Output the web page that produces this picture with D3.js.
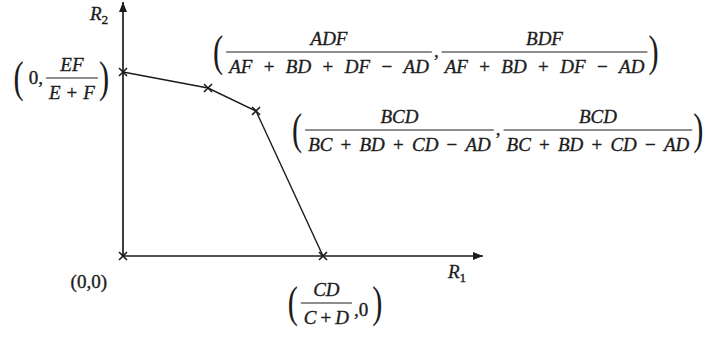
<!DOCTYPE html>
<html>
<head>
<meta charset="utf-8">
<script src="https://cdn.jsdelivr.net/npm/d3@7"></script>
<style>
  html, body { margin: 0; padding: 0; background: #fff; }
  svg { display: block; }
  svg text { stroke: #1c1c1c; stroke-width: 0.35px; }
  svg text.paren { stroke: none; }
</style>
</head>
<body>
<svg id="chart" width="708" height="337"></svg>
<script>
// Corner points of the achievable rate region (R1, R2), arbitrary rate units
const frontierR1 = [0, 2.125, 3.325, 5];
const frontierR2 = [4.6, 4.2, 3.625, 0];
const originPoint = [0, 0];
const axisExtent = { r1: 9, r2: 6.35 };

// Axis titles: main letter + subscript
const axisTitleR1 = ["R", "1"];
const axisTitleR2 = ["R", "2"];

// Coordinate labels for each corner point (tokens: letters italic, operators upright)
const labelOrigin   = ["(0,0)"];
const labelTop      = ["(", "0,", { num: ["EF"], den: ["E", "+", "F"] }, ")"];
const labelSecond   = ["(", { num: ["ADF"], den: ["AF", "+", "BD", "+", "DF", "−", "AD"] }, ",",
                             { num: ["BDF"], den: ["AF", "+", "BD", "+", "DF", "−", "AD"] }, ")"];
const labelThird    = ["(", { num: ["BCD"], den: ["BC", "+", "BD", "+", "CD", "−", "AD"] }, ",",
                             { num: ["BCD"], den: ["BC", "+", "BD", "+", "CD", "−", "AD"] }, ")"];
const labelAxisR1   = ["(", { num: ["CD"], den: ["C", "+", "D"] }, ",0", ")"];

const svg = d3.select("#chart");
const ink = "#1c1c1c";
const FONT = "'Liberation Serif', 'Times New Roman', serif";
const FS = 19;

const x = d3.scaleLinear().domain([0, axisExtent.r1]).range([123, 483]);
const y = d3.scaleLinear().domain([0, axisExtent.r2]).range([256, 2]);

// Arrowhead marker for the axes
svg.append("defs").append("marker")
  .attr("id", "arrow").attr("viewBox", "0 0 10 10")
  .attr("refX", 10).attr("refY", 5)
  .attr("markerWidth", 10).attr("markerHeight", 10)
  .attr("markerUnits", "userSpaceOnUse")
  .attr("orient", "auto")
  .append("path").attr("d", "M0,1 L10,5 L0,9 Z").attr("fill", ink);

// Axes
svg.append("line")
  .attr("x1", x(0)).attr("y1", y(0)).attr("x2", x(axisExtent.r1)).attr("y2", y(0))
  .attr("stroke", ink).attr("stroke-width", 1.7).attr("marker-end", "url(#arrow)");
svg.append("line")
  .attr("x1", x(0)).attr("y1", y(0)).attr("x2", x(0)).attr("y2", y(axisExtent.r2))
  .attr("stroke", ink).attr("stroke-width", 1.7).attr("marker-end", "url(#arrow)");

// Frontier of the region
const frontier = frontierR1.map((r1, i) => [r1, frontierR2[i]]);
svg.append("path")
  .datum(frontier)
  .attr("d", d3.line().x(d => x(d[0])).y(d => y(d[1])))
  .attr("fill", "none").attr("stroke", ink).attr("stroke-width", 1.4);

// Cross markers on every corner point
const corners = [originPoint, ...frontier];
svg.selectAll("path.cross").data(corners).join("path")
  .attr("class", "cross")
  .attr("transform", d => `translate(${x(d[0])},${y(d[1])})`)
  .attr("d", "M-4,-4L4,4M-4,4L4,-4")
  .attr("stroke", ink).attr("stroke-width", 1.6).attr("fill", "none");

// Axis titles with subscripts
function axisTitle(parts, px, py) {
  const t = svg.append("text").attr("x", px).attr("y", py)
    .attr("font-family", FONT).attr("font-size", FS).attr("fill", ink);
  t.append("tspan").attr("font-style", "italic").text(parts[0]);
  t.append("tspan").attr("font-size", FS * 0.7).attr("dy", 4).text(parts[1]);
}
axisTitle(axisTitleR1, x(axisExtent.r1) - 35, y(0) + 22);
axisTitle(axisTitleR2, x(0) - 33, 20);

// Math label layout: parentheses, inline text and stacked fractions
const isOp = s => s === "+" || s === "−";
function drawTokens(g, tokens, gap, baseline) {
  let cx = 0;
  tokens.forEach((tk, i) => {
    if (i > 0) cx += gap;
    const t = g.append("text").attr("x", cx).attr("y", baseline)
      .attr("font-family", FONT).attr("font-size", FS).attr("fill", ink)
      .attr("font-style", isOp(tk) ? "normal" : "italic")
      .text(tk);
    cx += t.node().getComputedTextLength();
  });
  return cx;
}

function mathLabel(parts, opt) {
  const g = svg.append("g");
  let cx = 0;
  parts.forEach(p => {
    if (p === "(" || p === ")") {
      const t = g.append("text").attr("class", "paren")
        .attr("font-family", FONT).attr("font-size", FS)
        .attr("fill", ink).text(p);
      const bb = t.node().getBBox();
      const sx = 1.6, sy = opt.parenH / bb.height;
      cx += p === "(" ? 0 : 1;
      t.attr("transform",
        `translate(${cx - bb.x * sx},0) scale(${sx},${sy}) translate(0,${-(bb.y + bb.height / 2)})`);
      cx += bb.width * sx + (p === "(" ? 3 : 0);
    } else if (typeof p === "string") {
      cx += 2;
      const t = g.append("text").attr("x", cx).attr("y", opt.inlineDy)
        .attr("font-family", FONT).attr("font-size", FS).attr("fill", ink).text(p);
      cx += t.node().getComputedTextLength() + 3;
    } else {
      const fg = g.append("g");
      const ng = fg.append("g"), dg = fg.append("g");
      const nw = drawTokens(ng, p.num, opt.gap, -7);
      const dw = drawTokens(dg, p.den, opt.gap, 21);
      const w = Math.max(nw, dw) + 6;
      ng.attr("transform", `translate(${(w - nw) / 2},0)`);
      dg.attr("transform", `translate(${(w - dw) / 2},0)`);
      fg.append("line").attr("x1", 0).attr("x2", w).attr("y1", 0).attr("y2", 0)
        .attr("stroke", ink).attr("stroke-width", 1.2);
      fg.attr("transform", `translate(${cx},0)`);
      cx += w;
    }
  });
  const width = cx;
  let left = opt.x;
  if (opt.anchor === "end") left = opt.x - width;
  if (opt.anchor === "middle") left = opt.x - width / 2;
  g.attr("transform", `translate(${left},${opt.y})`);
}

const P = corners.map(d => [x(d[0]), y(d[1])]);

// (0,0) at the origin
svg.append("text")
  .attr("x", P[0][0] - 16).attr("y", P[0][1] + 32)
  .attr("text-anchor", "end")
  .attr("font-family", FONT).attr("font-size", FS).attr("fill", ink)
  .text(labelOrigin[0]);

mathLabel(labelTop,    { x: P[1][0] - 14, y: P[1][1] + 6,  anchor: "end",    gap: 6,    parenH: 52, inlineDy: 6 });
mathLabel(labelSecond, { x: P[2][0] + 5,  y: P[2][1] - 36, anchor: "start",  gap: 11.4, parenH: 51, inlineDy: 5 });
mathLabel(labelThird,  { x: P[3][0] + 36, y: P[3][1] + 19, anchor: "start",  gap: 8.2,  parenH: 51, inlineDy: 5 });
mathLabel(labelAxisR1, { x: P[4][0] + 12, y: P[4][1] + 47, anchor: "middle", gap: 4,    parenH: 52, inlineDy: 13 });
</script>
</body>
</html>
